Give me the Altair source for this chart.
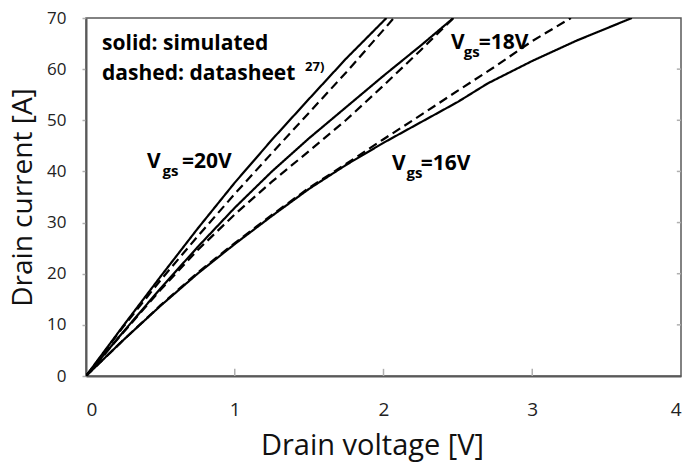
import altair as alt
import pandas as pd

FONT = "Open Sans"

# Output characteristics: drain voltage [V] vs drain current [A]
sim_20_v = [0, 0.25, 0.5, 0.75, 1.0, 1.25, 1.5, 1.75, 2.02]
sim_20_i = [0, 9.8, 19.4, 28.8, 37.8, 46.2, 54.2, 62.1, 70.0]
ds_20_v = [0, 0.25, 0.5, 0.75, 1.0, 1.25, 1.5, 1.75, 2.07]
ds_20_i = [0, 9.6, 18.7, 27.3, 35.6, 43.6, 51.5, 59.4, 70.0]

sim_18_v = [0, 0.25, 0.5, 0.75, 1.0, 1.25, 1.5, 1.75, 2.0, 2.25, 2.47]
sim_18_i = [0, 8.6, 17.1, 25.2, 32.9, 40.0, 46.5, 52.6, 58.7, 64.6, 70.0]
ds_18_v = [0, 0.25, 0.5, 0.75, 1.0, 1.25, 1.5, 1.75, 2.0, 2.25, 2.47]
ds_18_i = [0, 8.5, 16.8, 24.6, 31.6, 38.0, 44.0, 50.1, 56.8, 63.7, 70.0]

sim_16_v = [0, 0.25, 0.5, 0.75, 1.0, 1.25, 1.5, 1.75, 2.0, 2.25, 2.5, 2.7, 3.0, 3.3, 3.67]
sim_16_i = [0, 7.0, 13.7, 20.0, 25.8, 31.3, 36.6, 41.3, 45.6, 49.6, 53.6, 57.2, 61.6, 65.6, 70.0]
ds_16_v = [0, 0.25, 0.5, 0.75, 1.0, 1.25, 1.5, 1.75, 2.0, 2.25, 2.5, 2.75, 3.0, 3.26]
ds_16_i = [0, 7.0, 13.8, 20.2, 26.0, 31.5, 36.8, 41.5, 46.3, 51.0, 55.8, 60.5, 65.5, 70.0]

x_ticks = [0, 1, 2, 3, 4]
y_ticks = [0, 10, 20, 30, 40, 50, 60, 70]

series = [
    ("sim20", "solid", sim_20_v, sim_20_i),
    ("ds20", "dashed", ds_20_v, ds_20_i),
    ("sim18", "solid", sim_18_v, sim_18_i),
    ("ds18", "dashed", ds_18_v, ds_18_i),
    ("sim16", "solid", sim_16_v, sim_16_i),
    ("ds16", "dashed", ds_16_v, ds_16_i),
]
rows = []
for name, kind, vs, cur in series:
    for k, (v, c) in enumerate(zip(vs, cur)):
        rows.append({"series": name, "kind": kind, "order": k, "v": v, "i": c})
curves = pd.DataFrame(rows)

x_scale = alt.Scale(domain=[0, 4], nice=False, zero=True)
y_scale = alt.Scale(domain=[0, 70], nice=False, zero=True)

lines = alt.Chart(curves).mark_line(color="black", strokeWidth=2.2, clip=True).encode(
    x=alt.X(
        "v:Q",
        scale=x_scale,
        axis=alt.Axis(
            values=x_ticks, format="d", tickSize=0, labelPadding=24,
            labelFontSize=19, labelFont=FONT, labelColor="#222",
            domainColor="#595959", domainWidth=2, grid=False,
            title="Drain voltage [V]", titleFont=FONT, titleFontSize=29,
            titleFontWeight="normal", titleColor="#111", titlePadding=12,
            titleX=286,
        ),
    ),
    y=alt.Y(
        "i:Q",
        scale=y_scale,
        axis=alt.Axis(
            values=y_ticks, tickSize=4, tickColor="#b0b0b0", tickWidth=1.5,
            labelPadding=16, labelFontSize=17, labelFont=FONT, labelColor="#222",
            domainColor="#595959", domainWidth=2, grid=False,
            title="Drain current [A]", titleFont=FONT, titleFontSize=28,
            titleFontWeight="normal", titleColor="#111", titlePadding=9,
        ),
    ),
    detail="series:N",
    order="order:Q",
    strokeDash=alt.StrokeDash(
        "kind:N",
        scale=alt.Scale(domain=["solid", "dashed"], range=[[1, 0], [9, 5]]),
        legend=None,
    ),
)

# inward tick marks on the bottom and right edges of the frame
bottom_ticks = alt.Chart(pd.DataFrame({"v": x_ticks[1:-1]})).mark_rule(
    color="#b0b0b0", strokeWidth=1.5
).encode(x=alt.X("v:Q", scale=x_scale), y=alt.datum(0), y2=alt.datum(1.4))

right_ticks = alt.Chart(pd.DataFrame({"i": y_ticks[1:-1]})).mark_rule(
    color="#b0b0b0", strokeWidth=1.5
).encode(y=alt.Y("i:Q", scale=y_scale), x=alt.datum(3.972), x2=alt.datum(4))

one = pd.DataFrame({"k": [0]})


def label(text, x, y, size):
    return alt.Chart(one).mark_text(
        text=text, align="left", baseline="alphabetic", font=FONT,
        fontSize=size, fontWeight="bold", color="black",
    ).encode(x=alt.datum(x), y=alt.datum(y))


notes = [
    label("solid: simulated", 0.108, 63.7, 21),
    label("dashed: datasheet", 0.108, 57.9, 21),
    label("27)", 1.473, 59.6, 13),
    label("V", 0.41, 40.7, 21),
    label("gs", 0.515, 39.1, 15),
    label("=20V", 0.645, 40.7, 21),
    label("V", 2.454, 64.0, 21),
    label("gs", 2.54, 62.4, 15),
    label("=18V", 2.64, 64.0, 21),
    label("V", 2.057, 40.3, 21),
    label("gs", 2.155, 38.7, 15),
    label("=16V", 2.25, 40.3, 21),
]

chart = alt.layer(lines, bottom_ticks, right_ticks, *notes).properties(
    width=595,
    height=358,
    padding={"left": 86, "top": 18, "right": 7, "bottom": 88},
    autosize=alt.AutoSizeParams(type="none"),
    background="white",
).configure_view(stroke="#595959", strokeWidth=1.5)

chart.save("out.html", embed_options={"renderer": "svg", "actions": False})
